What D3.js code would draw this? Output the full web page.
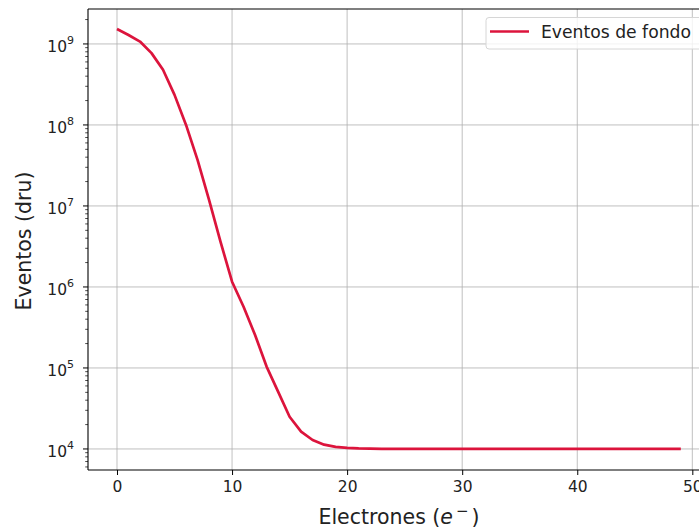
<!DOCTYPE html>
<html>
<head>
<meta charset="utf-8">
<script src="https://cdn.jsdelivr.net/npm/d3@7"></script>
<style>
  html, body { margin: 0; padding: 0; background: #fff; }
  svg { display: block; font-family: "DejaVu Sans", sans-serif; }
</style>
</head>
<body>
<svg id="chart" width="699" height="528"></svg>
<script>
// Background event counts per electron number
const electrons = d3.range(0, 50);
const events = [
  1.53e9, 1.29e9, 1.07e9, 7.7e8, 4.8e8, 2.35e8, 1.0e8, 3.7e7, 1.19e7, 3.6e6,
  1.16e6, 5.7e5, 2.55e5, 1.04e5, 5.1e4, 2.5e4, 1.64e4, 1.29e4, 1.13e4, 1.06e4,
  1.03e4, 1.015e4, 1.008e4, 1.004e4, 1.002e4, 1.001e4, 1.0e4, 1.0e4, 1.0e4, 1.0e4,
  1.0e4, 1.0e4, 1.0e4, 1.0e4, 1.0e4, 1.0e4, 1.0e4, 1.0e4, 1.0e4, 1.0e4,
  1.0e4, 1.0e4, 1.0e4, 1.0e4, 1.0e4, 1.0e4, 1.0e4, 1.0e4, 1.0e4, 1.0e4
];
const xTicks = [0, 10, 20, 30, 40, 50];
const yExponents = [4, 5, 6, 7, 8, 9];
const seriesName = "Eventos de fondo";
const xLabel = "Electrones";
const yLabel = "Eventos (dru)";

const color = "#dc143c";
const svg = d3.select("#chart");

const plotL = 88, plotT = 9, plotB = 470, plotR = 709;
const x = d3.scaleLinear().domain([-2.52, 51.45]).range([plotL, plotR]);
const y = d3.scaleLog().domain([5.5e3, 2.7e9]).range([plotB, plotT]);

// clip for the plotting area
svg.append("clipPath").attr("id", "plotclip")
  .append("rect").attr("x", plotL).attr("y", plotT)
  .attr("width", plotR - plotL).attr("height", plotB - plotT);

const grid = svg.append("g").attr("clip-path", "url(#plotclip)");
grid.selectAll("line.vx").data(xTicks).join("line")
  .attr("x1", d => x(d)).attr("x2", d => x(d))
  .attr("y1", plotT).attr("y2", plotB)
  .attr("stroke", "#b0b0b0").attr("stroke-width", 0.8);
grid.selectAll("line.hy").data(yExponents).join("line")
  .attr("x1", plotL).attr("x2", plotR)
  .attr("y1", d => y(Math.pow(10, d))).attr("y2", d => y(Math.pow(10, d)))
  .attr("stroke", "#b0b0b0").attr("stroke-width", 0.8);

// data line
const line = d3.line().x((d, i) => x(electrons[i])).y(d => y(d));
svg.append("path")
  .datum(events)
  .attr("clip-path", "url(#plotclip)")
  .attr("d", line)
  .attr("fill", "none")
  .attr("stroke", color)
  .attr("stroke-width", 2.7)
  .attr("stroke-linejoin", "round")
  .attr("stroke-linecap", "butt");

// frame
const frame = svg.append("g").attr("stroke", "#000").attr("stroke-width", 1.1);
frame.append("line").attr("x1", plotL).attr("x2", plotL).attr("y1", plotT).attr("y2", plotB);
frame.append("line").attr("x1", plotL).attr("x2", plotR).attr("y1", plotB).attr("y2", plotB);
frame.append("line").attr("x1", plotL).attr("x2", plotR).attr("y1", plotT).attr("y2", plotT);
frame.append("line").attr("x1", plotR).attr("x2", plotR).attr("y1", plotT).attr("y2", plotB);

// x axis ticks
const xAxis = svg.append("g").attr("transform", `translate(0,${plotB})`)
  .call(d3.axisBottom(x).tickValues(xTicks).tickSize(5).tickPadding(6).tickFormat(d3.format("d")));
xAxis.select(".domain").remove();
xAxis.selectAll(".tick line").attr("stroke", "#000").attr("stroke-width", 1);
xAxis.selectAll(".tick text").attr("font-size", 15.5).attr("fill", "#222")
  .attr("font-family", "DejaVu Sans");

// y axis: major ticks with power labels, minor ticks
const minor = [];
for (let e = 3; e <= 9; e++) for (let m = 2; m <= 9; m++) {
  const v = m * Math.pow(10, e);
  if (v >= 5.5e3 && v <= 2.7e9) minor.push(v);
}
svg.append("g").selectAll("line").data(minor).join("line")
  .attr("x1", plotL - 2.8).attr("x2", plotL)
  .attr("y1", d => y(d)).attr("y2", d => y(d))
  .attr("stroke", "#000").attr("stroke-width", 0.7);
svg.append("g").selectAll("line").data(yExponents).join("line")
  .attr("x1", plotL - 5).attr("x2", plotL)
  .attr("y1", d => y(Math.pow(10, d))).attr("y2", d => y(Math.pow(10, d)))
  .attr("stroke", "#000").attr("stroke-width", 1);
const yl = svg.append("g").selectAll("text").data(yExponents).join("text")
  .attr("x", 74).attr("y", d => y(Math.pow(10, d)) + 8)
  .attr("text-anchor", "end").attr("font-size", 15.5).attr("fill", "#222");
yl.append("tspan").text("10");
yl.append("tspan").attr("dy", -8).attr("font-size", 11).text(d => d);

// axis titles
const xt = svg.append("text").attr("x", 399).attr("y", 523.5)
  .attr("text-anchor", "middle").attr("font-size", 20.5).attr("fill", "#222");
xt.append("tspan").text(xLabel + " (");
xt.append("tspan").attr("font-style", "italic").text("e");
xt.append("tspan").attr("dx", 3).attr("dy", -8).attr("font-size", 15).text("\u2212");
xt.append("tspan").attr("dx", 3).attr("dy", 8).text(")");

svg.append("text")
  .attr("transform", "translate(31,241) rotate(-90)")
  .attr("text-anchor", "middle").attr("font-size", 20.5).attr("fill", "#222")
  .text(yLabel);

// legend
const lg = svg.append("g");
lg.append("rect").attr("x", 486).attr("y", 17.5).attr("width", 220).attr("height", 31.5)
  .attr("rx", 3).attr("fill", "#fff").attr("fill-opacity", 0.8)
  .attr("stroke", "#d6d6d6").attr("stroke-width", 1);
lg.append("line").attr("x1", 490).attr("x2", 529).attr("y1", 31.5).attr("y2", 31.5)
  .attr("stroke", color).attr("stroke-width", 2.7);
lg.append("text").attr("x", 541).attr("y", 37.5).attr("font-size", 17.2)
  .attr("fill", "#222").text(seriesName);
</script>
</body>
</html>
